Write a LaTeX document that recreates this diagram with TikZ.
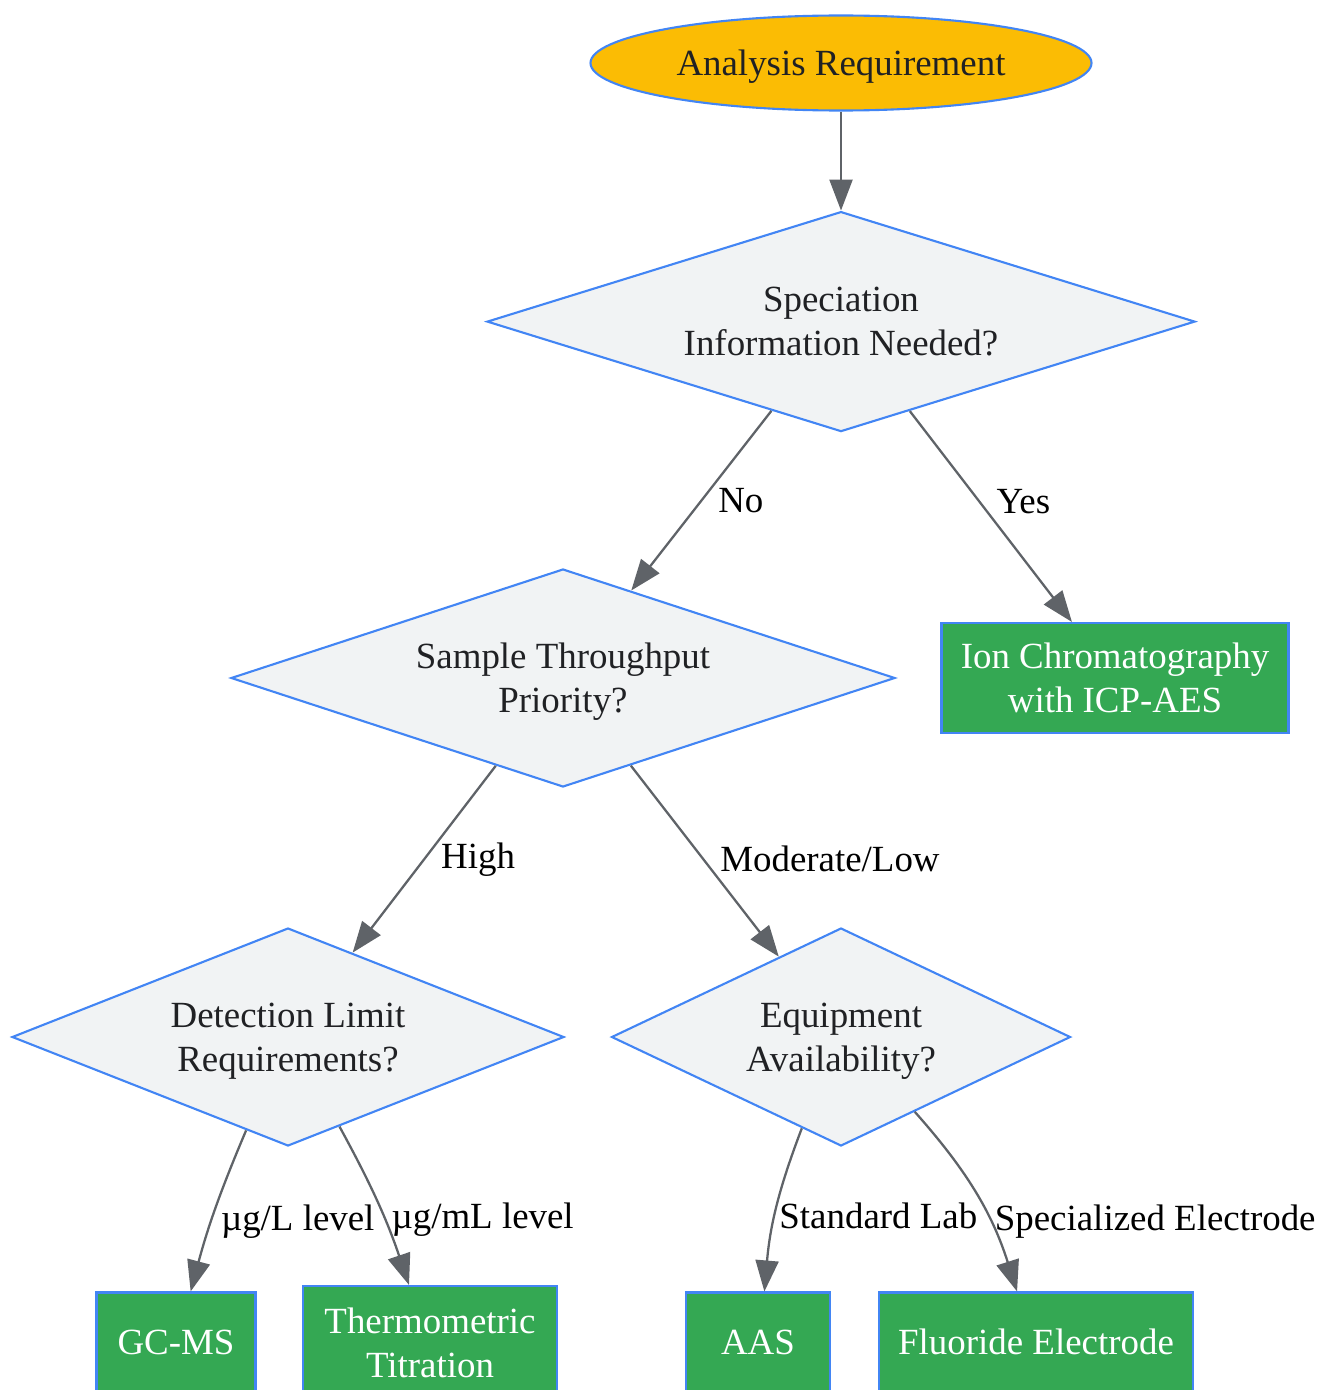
\documentclass[tikz,border=0pt]{standalone}
\usepackage{fontspec}
\setmainfont{Liberation Serif}
\usetikzlibrary{shapes.geometric,positioning,arrows.meta}
\definecolor{gblue}{HTML}{4285F4}
\definecolor{gyellow}{HTML}{FBBC04}
\definecolor{ggreen}{HTML}{34A853}
\definecolor{glight}{HTML}{F1F3F4}
\definecolor{ggray}{HTML}{5F6368}
\definecolor{gtext}{HTML}{202124}

\begin{document}
\begin{tikzpicture}[>={Triangle[length=0.62cm,width=0.46cm]},
  every node/.style={font=\fontsize{21}{25}\selectfont},
  start/.style={ellipse,draw=gblue,fill=gyellow,line width=1.2pt,text=gtext,
    minimum width=10.02cm,minimum height=1.9cm,inner sep=0pt,text depth=0pt},
  ques/.style={diamond,draw=gblue,fill=glight,line width=1.2pt,text=gtext,
    align=center,inner sep=0pt,text depth=0pt},
  meth/.style={rectangle,draw=gblue,fill=ggreen,line width=1.2pt,text=white,
    align=center,inner sep=0pt},
  link/.style={->,draw=ggray,line width=1.3pt},
  lab/.style={anchor=west,text=black,inner sep=9pt}]
      \useasboundingbox (0,0) rectangle (26.4,-27.8);
      \node[start] (r) at (16.82,-1.26) {Analysis Requirement};
      \node[ques,below=1.98cm of r,minimum width=14.16cm,minimum height=4.4cm,
        shape aspect=3.2] (d1) {Speciation\\Information Needed?};
      \node[ques,minimum width=13.28cm,minimum height=4.36cm,shape aspect=3.05]
        (d2) at (11.26,-13.56) {Sample Throughput\\Priority?};
      \node[meth,minimum width=6.94cm,minimum height=2.2cm] (m1) at (22.30,-13.56)
        {Ion Chromatography\\with ICP-AES};
      \node[ques,minimum width=11.04cm,minimum height=4.36cm,shape aspect=2.53]
        (d3) at (5.76,-20.74) {Detection Limit\\Requirements?};
      \node[ques,minimum width=9.18cm,minimum height=4.36cm,shape aspect=2.1]
        (d4) at (16.82,-20.74) {Equipment\\Availability?};
      \node[meth,minimum width=3.18cm,minimum height=1.98cm] (m2) at (3.52,-26.84) {GC-MS};
      \node[meth,minimum width=5.08cm,minimum height=2.28cm] (m3) at (8.60,-26.86)
        {Thermometric\\Titration};
      \node[meth,minimum width=2.88cm,minimum height=1.98cm] (m4) at (15.16,-26.84) {AAS};
      \node[meth,minimum width=6.28cm,minimum height=1.98cm] (m5) at (20.72,-26.84)
        {Fluoride Electrode};

      \draw[link] (r) -- (d1);
      \draw[link] (d1) -- node[lab] {No} (d2);
      \draw[link] (d1) -- node[lab,pos=.43] {Yes} (m1);
      \draw[link] (d2) -- node[lab] {High} (d3);
      \draw[link] (d2) -- node[lab,pos=.49] {Moderate/Low} (d4);
      \draw[link] (d3) to[bend right=4] node[lab,inner sep=5pt,pos=.58] {µg/L level} (m2);
      \draw[link] (d3) to[bend left=5] node[lab,inner sep=3pt,pos=.61] {µg/mL level} (m3);
      \draw[link] (d4) to[bend right=8] node[lab,inner sep=2pt,pos=.55] {Standard Lab} (m4);
      \draw[link] (d4) to[bend left=12] node[lab,inner sep=2pt,pos=.65] {Specialized Electrode} (m5);
    \end{tikzpicture}
\end{document}
